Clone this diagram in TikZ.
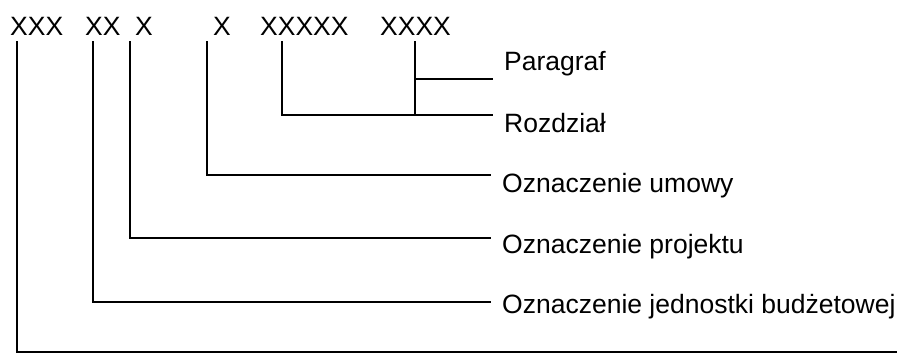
\documentclass[tikz,border=0pt]{standalone}
\usepackage{fontspec}
\setmainfont{Liberation Sans}
\usetikzlibrary{positioning}
\tikzset{
    kod/.style={anchor=base west, inner sep=0pt, font=\fontsize{26.5}{30}\selectfont},
    opis/.style={anchor=base west, inner sep=0pt, font=\fontsize{26.5}{30}\selectfont},
    linia/.style={line width=2.2pt, line cap=rect}
}

\begin{document}
\begin{tikzpicture}[x=1pt,y=-1pt]
    \useasboundingbox (0,0) rectangle (901,354);

    % kod klasyfikacji
    \node[kod] (kx1) at (10,35) {XXX};
    \node[kod] (kx2) at (85,35) {XX};
    \node[kod] (kx3) at (135,35) {X};
    \node[kod] (kx4) at (213,35) {X};
    \node[kod] (kx5) at (260,35) {XXXXX};
    \node[kod] (kx6) at (380,35) {XXXX};

    % opisy
    \node[opis] (par) at (504,70) {Paragraf};
    \node[opis] (roz) at (504,132) {Rozdział};
    \node[opis] (umo) at (502,192) {Oznaczenie umowy};
    \node[opis] (pro) at (502,253) {Oznaczenie projektu};
    \node[opis] (jed) at (502,313) {Oznaczenie jednostki budżetowej};

    \coordinate (epar) at (492,79);
    \coordinate (eroz) at (492,115);
    \coordinate (eumo) at (490,175);
    \coordinate (epro) at (490,238);
    \coordinate (ejed) at (490,302);
    \coordinate (ekon) at (896,352);
    \coordinate (rozw) at (415,79);

    \draw[linia] (kx1.south west) ++(7,7) |- (ekon);
    \draw[linia] (kx2.south west) ++(8,7) |- (ejed);
    \draw[linia] (kx3.south west) ++(-5,7) |- (epro);
    \draw[linia] (kx4.south west) ++(-6,7) |- (eumo);
    \draw[linia] (kx5.south west) ++(22,7) |- (eroz);
    \draw[linia] (kx6.south west) ++(35,7) |- (eroz);
    \draw[linia] (rozw) -- (epar);
\end{tikzpicture}
\end{document}
